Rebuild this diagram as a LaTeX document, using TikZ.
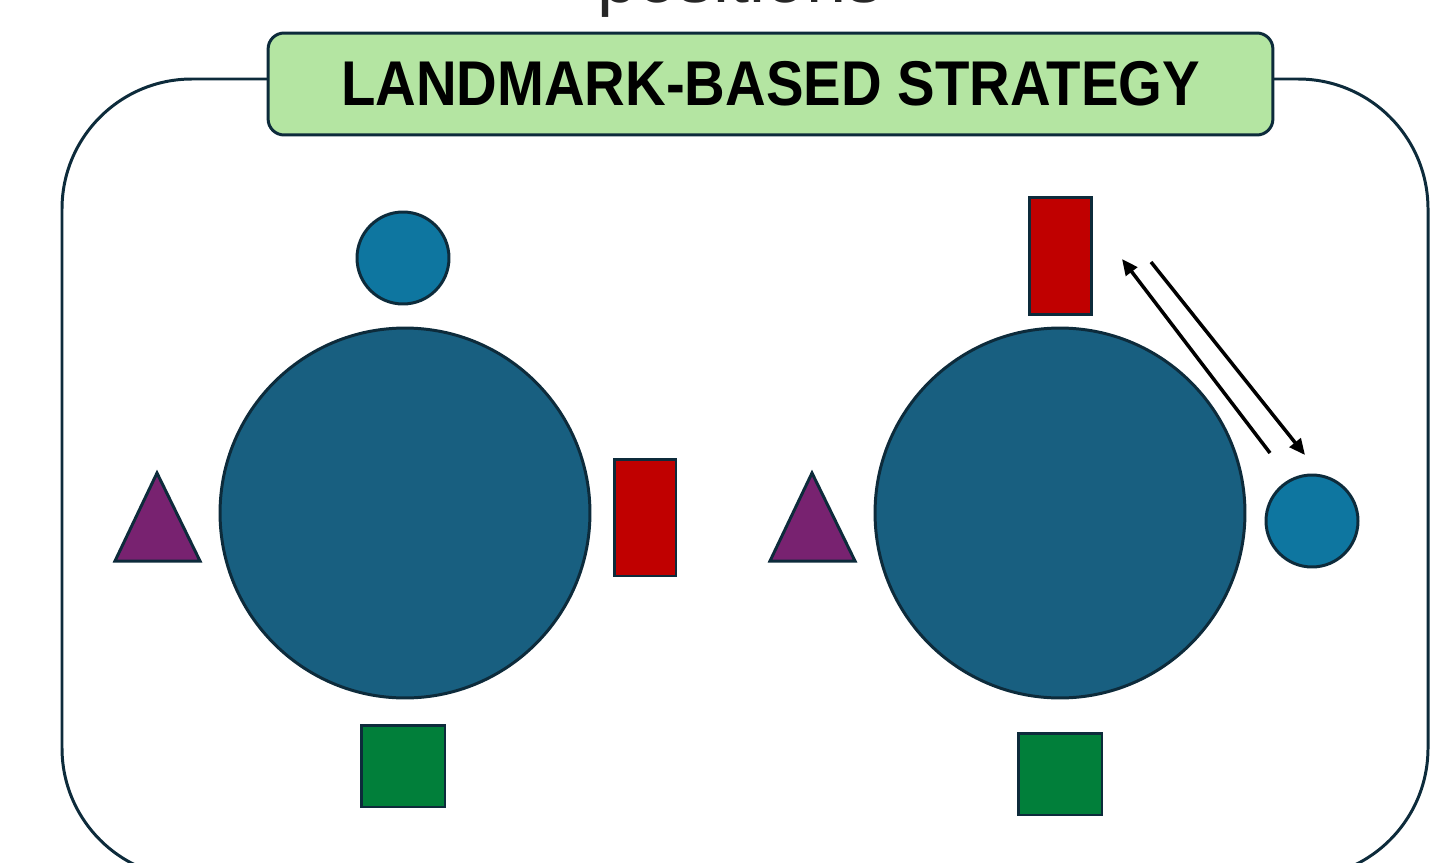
\documentclass[tikz,border=0pt]{standalone}
\usepackage{fontspec}
\setmainfont{Liberation Sans}
\usetikzlibrary{arrows.meta}
\definecolor{edge}{HTML}{0D2B3B}
\definecolor{bigblue}{HTML}{185F80}
\definecolor{smallblue}{HTML}{0E76A0}
\definecolor{redbox}{HTML}{C00000}
\definecolor{greenbox}{HTML}{017F3A}
\definecolor{plum}{HTML}{782270}
\definecolor{titlegreen}{HTML}{B4E5A2}
\definecolor{inkgray}{HTML}{262626}
\tikzset{
  outline/.style={draw=edge, line width=1.7pt},
  frame/.style={outline, rounded corners=2.6cm},
  titlebox/.style={outline, fill=titlegreen, rounded corners=0.32cm, minimum width=20.1cm, minimum height=2.04cm, inner sep=0pt},
  disc/.style={outline, circle, inner sep=0pt},
  bigdisc/.style={disc, fill=bigblue, minimum size=7.4cm},
  smalldisc/.style={disc, fill=smallblue, minimum size=1.84cm},
  redbar/.style={outline, fill=redbox, rectangle, inner sep=0pt, minimum width=1.24cm, minimum height=2.34cm},
  greensq/.style={outline, fill=greenbox, rectangle, inner sep=0pt, minimum width=1.68cm, minimum height=1.64cm},
  tri/.style={outline, fill=plum, line join=miter},
  link/.style={line width=2pt, draw=black, -{Triangle[length=0.32cm, width=0.28cm]}}
}
\begin{document}
\begin{tikzpicture}[x=0.02cm, y=-0.02cm]
\useasboundingbox (0,0) rectangle (1450,862);

% heading above, partly outside the page
\node[anchor=base, text=inkgray, font=\fontsize{41}{45}\selectfont] (heading) at (740,3) {positions};

% surrounding frame
\draw[frame] (62,79) rectangle (1428,878);

% title banner
\node[titlebox, font=\bfseries\fontsize{36}{40}\selectfont] (title) at (770.5,84) {\scalebox{0.89}[1]{LANDMARK-BASED STRATEGY}};

% left arrangement
\node[bigdisc] (lbig) at (405,513) {};
\node[smalldisc] (lsmall) at (403,258) {};
\node[redbar] (lred) at (645,517.5) {};
\node[greensq] (lgreen) at (403,766) {};
\draw[tri] (157,473) -- (200,561) -- (115,561) -- cycle;

% right arrangement
\node[bigdisc] (rbig) at (1060,513) {};
\node[redbar] (rred) at (1060,256) {};
\node[smalldisc] (rsmall) at (1312,521) {};
\node[greensq] (rgreen) at (1060,774) {};
\draw[tri] (812,473) -- (855,561) -- (770,561) -- cycle;

% swap arrows between the red bar and the small disc
\coordinate (s1) at (1270,453);
\coordinate (e1) at (1122,259);
\coordinate (s2) at (1151,262);
\coordinate (e2) at (1305,455);
\draw[link] (s1) -- (e1);
\draw[link] (s2) -- (e2);
\end{tikzpicture}
\end{document}
